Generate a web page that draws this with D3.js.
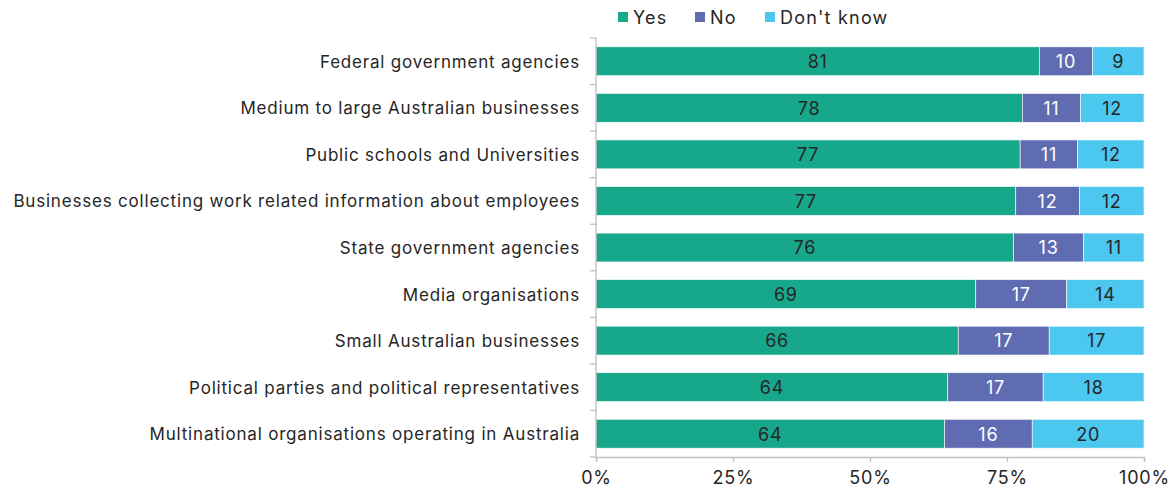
<!DOCTYPE html>
<html>
<head>
<meta charset="utf-8">
<script src="https://cdn.jsdelivr.net/npm/d3@7"></script>
<style>
  html, body { margin: 0; padding: 0; background: #fff; }
  svg { display: block; font-family: "Inter", "Open Sans", sans-serif; letter-spacing: 0.8px; }
</style>
</head>
<body>
<svg id="chart" width="1171" height="490"></svg>
<script>
const categories = [
  "Federal government agencies",
  "Medium to large Australian businesses",
  "Public schools and Universities",
  "Businesses collecting work related information about employees",
  "State government agencies",
  "Media organisations",
  "Small Australian businesses",
  "Political parties and political representatives",
  "Multinational organisations operating in Australia"
];
const seriesNames = ["Yes", "No", "Don't know"];
const yesValues = [80.9, 77.8, 77.4, 76.6, 76.2, 69.3, 66.1, 64.2, 63.6];
const noValues = [9.7, 10.6, 10.5, 11.6, 12.8, 16.6, 16.6, 17.4, 16.0];
const dontKnowValues = [9.4, 11.6, 12.1, 11.8, 11.0, 14.1, 17.3, 18.4, 20.4];
const tickValues = [0, 25, 50, 75, 100];
const tickLabels = ["0%", "25%", "50%", "75%", "100%"];

const colors = ["#17A88B", "#606CB2", "#4CC8F0"];
const labelColors = ["#262626", "#ffffff", "#262626"];

const svg = d3.select("#chart");
const margin = { left: 596, right: 27, top: 38, bottom: 33 };
const W = 1171, H = 490;
const x = d3.scaleLinear().domain([0, 100]).range([margin.left, W - margin.right]);
const y = d3.scaleBand().domain(categories).range([margin.top, H - margin.bottom]).paddingInner(0.38).paddingOuter(0.19);

const rows = categories.map((c, i) => ({ cat: c, Yes: yesValues[i], No: noValues[i], "Don't know": dontKnowValues[i] }));
const stack = d3.stack().keys(seriesNames)(rows);

const axisColor = "#BFBFBF";
const textColor = "#262626";
const fs = 17;

// bars
const g = svg.append("g");
stack.forEach((layer, si) => {
  g.selectAll(null).data(layer).enter().append("rect")
    .attr("x", d => x(d[0]))
    .attr("y", d => y(d.data.cat))
    .attr("width", d => x(d[1]) - x(d[0]))
    .attr("height", y.bandwidth())
    .attr("fill", colors[si])
    .attr("stroke", "#ffffff")
    .attr("stroke-width", 0.6);
  g.selectAll(null).data(layer).enter().append("text")
    .attr("x", d => (x(d[0]) + x(d[1])) / 2)
    .attr("y", d => y(d.data.cat) + y.bandwidth() / 2)
    .attr("dy", "0.38em")
    .attr("text-anchor", "middle")
    .attr("fill", labelColors[si])
    .attr("font-size", 18)
    .text(d => Math.round(d[1] - d[0]));
});

// y axis (category separators)
const step = y.step();
const yAxisG = svg.append("g");
yAxisG.append("line")
  .attr("x1", x(0)).attr("x2", x(0))
  .attr("y1", margin.top).attr("y2", H - margin.bottom)
  .attr("stroke", axisColor).attr("stroke-width", 1.3);
const bounds = d3.range(categories.length + 1).map(i => margin.top + i * step);
yAxisG.selectAll(null).data(bounds).enter().append("line")
  .attr("x1", x(0) - 6).attr("x2", x(0))
  .attr("y1", d => d).attr("y2", d => d)
  .attr("stroke", axisColor).attr("stroke-width", 1.3);

yAxisG.selectAll(null).data(categories).enter().append("text")
  .attr("x", 580)
  .attr("y", d => y(d) + y.bandwidth() / 2)
  .attr("dy", "0.38em")
  .attr("text-anchor", "end")
  .attr("fill", textColor)
  .attr("font-size", fs)
  .text(d => d);

// x axis
const xAxis = d3.axisBottom(x).tickValues(tickValues).tickSize(5).tickFormat((d, i) => tickLabels[i]);
const xg = svg.append("g").attr("transform", `translate(0,${H - margin.bottom})`).call(xAxis);
xg.select(".domain").attr("stroke", axisColor).attr("stroke-width", 1.3);
xg.selectAll(".tick line").attr("stroke", axisColor).attr("stroke-width", 1.3);
xg.selectAll(".tick text").attr("fill", textColor).attr("font-size", 18).attr("font-family", "Inter, 'Open Sans', sans-serif").attr("dy", "1.05em");

// legend
const legendX = [618, 695, 765];
const legend = svg.append("g");
seriesNames.forEach((s, i) => {
  legend.append("rect").attr("x", legendX[i]).attr("y", 12).attr("width", 10).attr("height", 10).attr("fill", colors[i]);
  legend.append("text").attr("x", legendX[i] + 15).attr("y", 17).attr("dy", "0.38em")
    .attr("fill", textColor).attr("font-size", 18).style("letter-spacing", "1.2px").text(s);
});
</script>
</body>
</html>
